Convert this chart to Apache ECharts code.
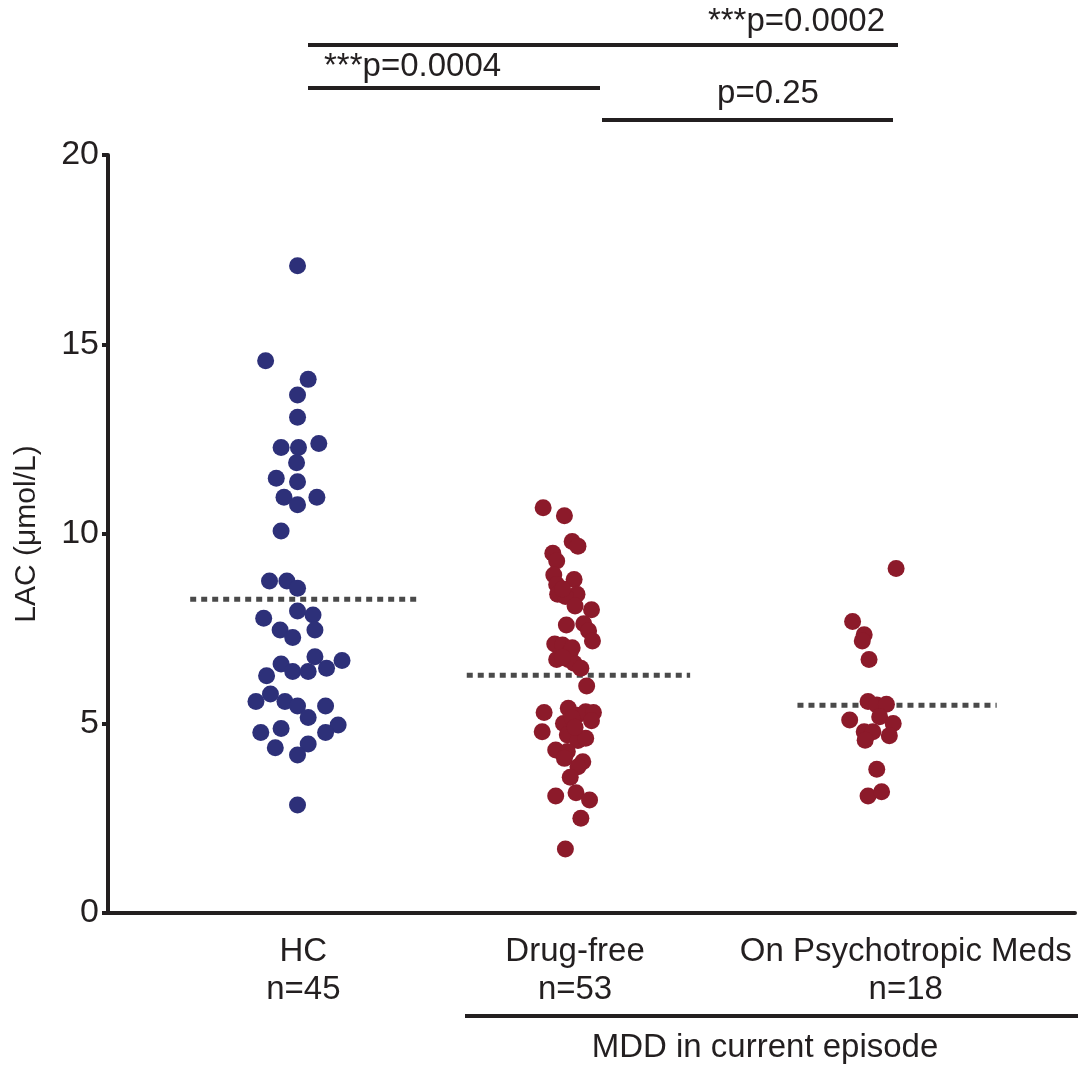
<!DOCTYPE html>
<html>
<head>
<meta charset="utf-8">
<script src="https://cdn.jsdelivr.net/npm/echarts@6/dist/echarts.min.js"></script>
<style>
  html, body { margin: 0; padding: 0; background: #fff; }
  #main { width: 1078px; height: 1066px; }
</style>
</head>
<body>
<div id="main"></div>
<script>
// groups and their x-axis positions (axis runs 0..100)
const groups = ['HC', 'Drug-free', 'On Psychotropic Meds'];
const groupN = [45, 53, 18];
const labelX = [20.2, 48.3, 82.5];
const dotX = [19.6, 47.3, 78.8];
const meanSpan = [[8.5, 32.0], [37.1, 60.2], [71.3, 91.9]];
const yTicks = [0, 5, 10, 15, 20];

// LAC values, with horizontal jitter of each dot
const hcValues = [17.08, 14.57, 14.08, 13.67, 13.08, 12.39, 12.28, 12.28, 11.88, 11.47,
  11.38, 10.97, 10.97, 10.77, 10.08, 8.76, 8.76, 8.57, 7.97, 7.86,
  7.78, 7.47, 7.47, 7.27, 6.76, 6.66, 6.57, 6.46, 6.37, 6.37,
  6.26, 5.78, 5.58, 5.58, 5.46, 5.46, 5.16, 4.96, 4.87, 4.76,
  4.76, 4.46, 4.36, 4.17, 2.85];
const hcJitter = [0, -3.3, 1.1, 0, 0, 2.2, -1.7, 0.1, -0.1, -2.2,
  0, -1.4, 2.0, 0, -1.7, -2.9, -1.1, 0, 0, 1.6,
  -3.5, -1.8, 1.8, -0.5, 1.8, 4.6, -1.7, 3.0, -0.5, 1.1,
  -3.2, -2.8, -4.3, -1.3, 0, 2.9, 1.1, 4.2, -1.7, -3.8,
  2.9, 1.1, -2.3, 0, 0];

const dfValues = [10.69, 10.48, 9.80, 9.68, 9.49, 9.29, 8.92, 8.80, 8.67, 8.41,
  8.41, 8.35, 8.10, 8.00, 7.60, 7.63, 7.45, 7.18, 7.10, 7.07,
  6.89, 6.69, 6.69, 6.59, 6.46, 5.99, 5.29, 5.40, 5.22, 5.31,
  5.29, 5.07, 5.00, 4.78, 4.70, 4.55, 4.61, 4.30, 4.26, 4.08,
  3.99, 3.86, 3.58, 3.09, 3.17, 2.98, 2.50, 1.69, 8.55, 7.00,
  6.75, 5.15, 4.90];
const dfJitter = [-2.3, -0.1, 0.7, 1.3, -1.3, -0.9, -1.2, 0.9, -0.9, -0.8,
  1.2, 0, 1.0, 2.7, 0.1, 1.9, 2.4, 2.8, -1.1, -0.3,
  0.5, -0.9, 0.3, 0.9, 1.6, 2.2, -2.2, 0.3, 1.2, 2.1,
  2.9, 2.7, -0.2, -2.4, 0.2, 1.3, 2.1, -1.0, 0.2, -0.1,
  1.8, 1.3, 0.5, -1.0, 1.1, 2.5, 1.6, 0, -0.3, 0.7,
  -0.3, 0.7, 1.0];

const medValues = [9.09, 7.69, 7.34, 7.18, 6.69, 5.58, 5.49, 5.51, 5.18, 5.09,
  5.00, 4.78, 4.78, 4.68, 4.56, 3.79, 3.09, 3.20];
const medJitter = [2.7, -1.8, -0.6, -0.8, -0.1, -0.2, 0.7, 1.7, 1.0, -2.1,
  2.4, -0.6, 0.3, 2.0, -0.5, 0.7, -0.2, 1.2];

const means = [8.28, 6.27, 5.48];

const ink = '#231f20';
const font = "'Liberation Sans', Arial, sans-serif";

function toPoints(center, jitter, values) {
  return values.map((v, i) => [center + jitter[i], v]);
}

let myChart = echarts.init(document.getElementById('main'));

let series = [];
means.forEach((m, i) => {
  series.push({
    type: 'line',
    data: [[meanSpan[i][0], m], [meanSpan[i][1], m]],
    showSymbol: false,
    symbol: 'none',
    silent: true,
    z: 1,
    lineStyle: { color: '#4a4a4a', width: 5, type: [6, 5] },
  });
});
series.push({
  type: 'scatter',
  data: toPoints(dotX[0], hcJitter, hcValues),
  symbolSize: 17,
  itemStyle: { color: '#2d3079', opacity: 1 },
  z: 3,
});
series.push({
  type: 'scatter',
  data: toPoints(dotX[1], dfJitter, dfValues),
  symbolSize: 17,
  itemStyle: { color: '#8c1a2a', opacity: 1 },
  z: 3,
});
series.push({
  type: 'scatter',
  data: toPoints(dotX[2], medJitter, medValues),
  symbolSize: 17,
  itemStyle: { color: '#8c1a2a', opacity: 1 },
  z: 3,
});

const textStyle = { fill: ink, font: '33px ' + font };

let option = {
  backgroundColor: '#fff',
  animation: false,
  textStyle: { fontFamily: font },
  grid: { left: 108, right: 3, top: 155, bottom: 153, containLabel: false, outerBoundsMode: 'none' },
  xAxis: {
    type: 'value',
    min: 0,
    max: 100,
    splitLine: { show: false },
    axisTick: { show: false },
    axisLine: { show: true, lineStyle: { color: ink, width: 4 } },
    axisLabel: {
      customValues: labelX,
      margin: 20,
      color: ink,
      fontSize: 33,
      lineHeight: 38,
      fontFamily: font,
      formatter: (v) => {
        let idx = labelX.findIndex(x => Math.abs(x - v) < 0.01);
        return idx < 0 ? '' : groups[idx] + '\nn=' + groupN[idx];
      },
    },
  },
  yAxis: {
    type: 'value',
    min: 0,
    max: 20,
    interval: 5,
    name: 'LAC (μmol/L)',
    nameLocation: 'middle',
    nameGap: 66,
    nameTextStyle: { color: ink, fontSize: 30, fontFamily: font },
    splitLine: { show: false },
    axisLine: { show: true, lineStyle: { color: ink, width: 4 } },
    axisTick: { show: true, length: 6, lineStyle: { color: ink, width: 4 } },
    axisLabel: { color: ink, fontSize: 34, margin: 9, fontFamily: font,
      formatter: (v) => yTicks.includes(v) ? String(v) : '' },
  },
  series: series,
  graphic: [
    { type: 'line', shape: { x1: 308, y1: 45, x2: 898, y2: 45 }, style: { stroke: ink, lineWidth: 4 } },
    { type: 'text', x: 885, y: 22, style: Object.assign({ text: '***p=0.0002', align: 'right', verticalAlign: 'middle' }, textStyle) },
    { type: 'line', shape: { x1: 308, y1: 88, x2: 600, y2: 88 }, style: { stroke: ink, lineWidth: 4 } },
    { type: 'text', x: 324, y: 67, style: Object.assign({ text: '***p=0.0004', align: 'left', verticalAlign: 'middle' }, textStyle) },
    { type: 'line', shape: { x1: 602, y1: 120, x2: 893, y2: 120 }, style: { stroke: ink, lineWidth: 4 } },
    { type: 'text', x: 768, y: 94, style: Object.assign({ text: 'p=0.25', align: 'center', verticalAlign: 'middle' }, textStyle) },
    { type: 'line', shape: { x1: 465, y1: 1016, x2: 1078, y2: 1016 }, style: { stroke: ink, lineWidth: 4 } },
    { type: 'text', x: 765, y: 1048, style: Object.assign({ text: 'MDD in current episode', align: 'center', verticalAlign: 'middle' }, textStyle) },
  ],
};

option && myChart.setOption(option);
</script>
</body>
</html>
